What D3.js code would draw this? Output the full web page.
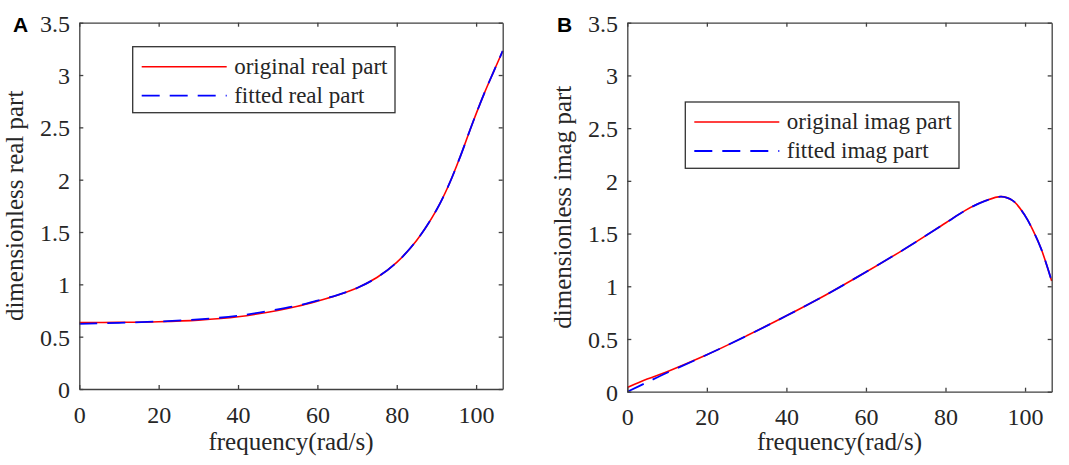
<!DOCTYPE html>
<html>
<head>
<meta charset="utf-8">
<script src="https://cdn.jsdelivr.net/npm/d3@7"></script>
<style>
  html, body { margin: 0; padding: 0; background: #fff; }
  svg { display: block; }
</style>
</head>
<body>
<svg id="chart" width="1069" height="465"></svg>
<script>
// ---- data ----
const xTicks = [0, 20, 40, 60, 80, 100];
const yTicks = [0, 0.5, 1, 1.5, 2, 2.5, 3, 3.5];
const yTickLabels = ["0", "0.5", "1", "1.5", "2", "2.5", "3", "3.5"];

const realFreq     = [0, 10, 20, 30, 40, 50, 55, 60, 65, 70, 75, 80, 85, 90, 93, 96, 99, 102, 104.5, 106.7];
const realOriginal = [0.635, 0.637, 0.643, 0.658, 0.69, 0.75, 0.79, 0.84, 0.895, 0.965, 1.065, 1.21, 1.42, 1.71, 1.94, 2.22, 2.53, 2.82, 3.04, 3.23];
const realFitted   = [0.622, 0.632, 0.645, 0.665, 0.70, 0.76, 0.797, 0.845, 0.897, 0.965, 1.065, 1.21, 1.42, 1.71, 1.94, 2.22, 2.53, 2.82, 3.04, 3.23];

const imagFreq     = [0, 5, 10, 20, 30, 40, 50, 60, 70, 80, 85, 90, 94, 97, 100, 102, 104, 106.7];
const imagOriginal = [0.04, 0.12, 0.19, 0.35, 0.53, 0.72, 0.92, 1.135, 1.36, 1.60, 1.72, 1.81, 1.85, 1.81, 1.67, 1.53, 1.36, 1.05];
const imagFitted   = [0.0, 0.09, 0.18, 0.35, 0.53, 0.72, 0.92, 1.135, 1.36, 1.60, 1.72, 1.81, 1.85, 1.81, 1.67, 1.53, 1.36, 1.05];

const panels = [
  { letter: "A", ylabel: "dimensionless real part", freq: realFreq, orig: realOriginal, fit: realFitted,
    legend: ["original real part", "fitted real part"],
    box: { l: 79.3, r: 502.7, t: 22.7, b: 389 },
    letterPos: [13, 32], ylabX: 23,
    leg: { x: 132.7, y: 46.7, w: 262.3, h: 66 } },
  { letter: "B", ylabel: "dimensionless imag part", freq: imagFreq, orig: imagOriginal, fit: imagFitted,
    legend: ["original imag part", "fitted imag part"],
    box: { l: 627.3, r: 1051.7, t: 22.7, b: 391.7 },
    letterPos: [557, 32], ylabX: 571,
    leg: { x: 685.3, y: 102, w: 273.7, h: 66.3 } }
];

const xMax = 106.7;
const axisColor = "#404040";
const dash = "18,10";
const serif = "'Liberation Serif', 'Times New Roman', serif";
const svg = d3.select("#chart");

panels.forEach(p => {
  const B = p.box;
  const x = d3.scaleLinear().domain([0, xMax]).range([B.l, B.r]);
  const y = d3.scaleLinear().domain([0, 3.5]).range([B.b, B.t]);
  const g = svg.append("g");

  // curves
  const line = d3.line().x(d => x(d[0])).y(d => y(d[1])).curve(d3.curveCatmullRom.alpha(0.5));
  g.append("path").datum(p.freq.map((f, i) => [f, p.orig[i]]))
    .attr("d", line).attr("fill", "none").attr("stroke", "#ff0000").attr("stroke-width", 1.6);
  g.append("path").datum(p.freq.map((f, i) => [f, p.fit[i]]))
    .attr("d", line).attr("fill", "none").attr("stroke", "#0000ff").attr("stroke-width", 1.8)
    .attr("stroke-dasharray", dash);

  // axes
  const styleAxis = sel => {
    sel.select(".domain").attr("stroke", axisColor).attr("stroke-width", 1.3);
    sel.selectAll(".tick line").attr("stroke", axisColor).attr("stroke-width", 1.3);
    sel.selectAll("text").attr("font-family", serif).attr("font-size", 24).attr("fill", "#262626");
  };
  const bottom = g.append("g").attr("transform", `translate(0,${B.b})`)
    .call(d3.axisBottom(x).tickValues(xTicks).tickSizeInner(-4).tickSizeOuter(0).tickPadding(0));
  styleAxis(bottom);
  bottom.selectAll("text").attr("dy", null).attr("y", 33.5);

  const top = g.append("g").attr("transform", `translate(0,${B.t})`)
    .call(d3.axisTop(x).tickValues(xTicks).tickSizeInner(-4).tickSizeOuter(0).tickFormat(""));
  styleAxis(top);

  const left = g.append("g").attr("transform", `translate(${B.l},0)`)
    .call(d3.axisLeft(y).tickValues(yTicks).tickSizeInner(-4).tickSizeOuter(0).tickPadding(9.3)
      .tickFormat((d, i) => yTickLabels[i]));
  styleAxis(left);
  left.selectAll("text").attr("dy", "0.35em");

  const right = g.append("g").attr("transform", `translate(${B.r},0)`)
    .call(d3.axisRight(y).tickValues(yTicks).tickSizeInner(-4).tickSizeOuter(0).tickFormat(""));
  styleAxis(right);

  // axis labels
  g.append("text").attr("x", (B.l + B.r) / 2).attr("y", 450)
    .attr("text-anchor", "middle").attr("font-family", serif).attr("font-size", 25).attr("fill", "#262626")
    .text("frequency(rad/s)");
  g.append("text")
    .attr("transform", `translate(${p.ylabX},${(B.t + B.b) / 2}) rotate(-90)`)
    .attr("text-anchor", "middle").attr("font-family", serif).attr("font-size", 25).attr("fill", "#262626")
    .text(p.ylabel);

  // panel letter
  g.append("text").attr("x", p.letterPos[0]).attr("y", p.letterPos[1])
    .attr("font-family", "'Liberation Sans', Arial, sans-serif").attr("font-weight", "bold")
    .attr("font-size", 21).attr("fill", "#000").text(p.letter);

  // legend
  const L = p.leg;
  const lg = g.append("g");
  lg.append("rect").attr("x", L.x).attr("y", L.y).attr("width", L.w).attr("height", L.h)
    .attr("fill", "#fff").attr("stroke", "#333").attr("stroke-width", 1.3);
  const rows = [
    { label: p.legend[0], color: "#ff0000", dash: null, w: 1.6, cy: L.y + 20 },
    { label: p.legend[1], color: "#0000ff", dash: dash, w: 1.8, cy: L.y + 49 }
  ];
  rows.forEach(r => {
    lg.append("line").attr("x1", L.x + 9).attr("x2", L.x + 94).attr("y1", r.cy).attr("y2", r.cy)
      .attr("stroke", r.color).attr("stroke-width", r.w).attr("stroke-dasharray", r.dash);
    lg.append("text").attr("x", L.x + 101.5).attr("y", r.cy).attr("dy", "0.3em")
      .attr("font-family", serif).attr("font-size", 23).attr("fill", "#262626").text(r.label);
  });
});
</script>
</body>
</html>
